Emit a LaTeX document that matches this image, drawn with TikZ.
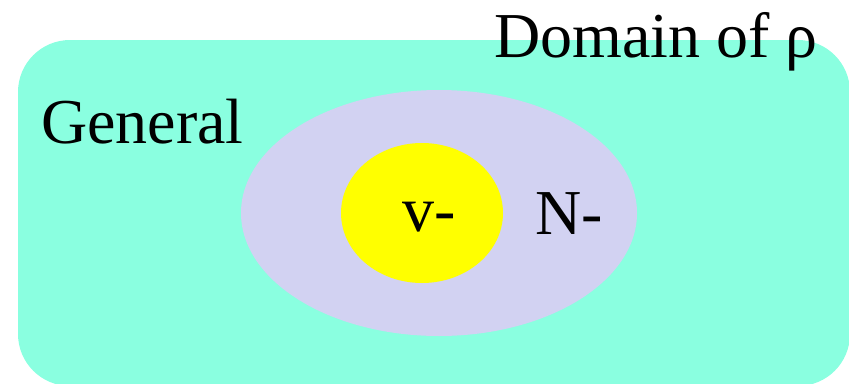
\documentclass[tikz,border=0pt]{standalone}
\usepackage{fontspec}
\setmainfont{Liberation Serif}
\usetikzlibrary{shapes.geometric}
\definecolor{aquafill}{RGB}{138,255,224}
\definecolor{lavfill}{RGB}{210,210,242}
\definecolor{yelfill}{RGB}{255,255,0}
\begin{document}
\begin{tikzpicture}[x=1pt,y=-1pt]
\tikzset{
    region/.style={draw=none,inner sep=0pt},
    label/.style={font=\fontsize{64}{70}\selectfont,inner sep=0pt,anchor=base west}
}
\useasboundingbox (0,0) rectangle (849,383);
\node[region,fill=aquafill,rounded corners=52pt,minimum width=832pt,minimum height=346pt] (domain) at (434,213) {};
\node[region,ellipse,fill=lavfill,minimum width=396pt,minimum height=246pt] (nset) at (439,213) {};
\node[region,ellipse,fill=yelfill,minimum width=162pt,minimum height=140pt] (vset) at (422,213) {};

\node[label] (domaintext) at (494,57) {Domain of ρ};
\node[label] (general) at (41,143) {General};
\node[label] (vtext) at (402,231) {v-};
\node[label] (ntext) at (535,234) {N-};
\end{tikzpicture}
\end{document}
